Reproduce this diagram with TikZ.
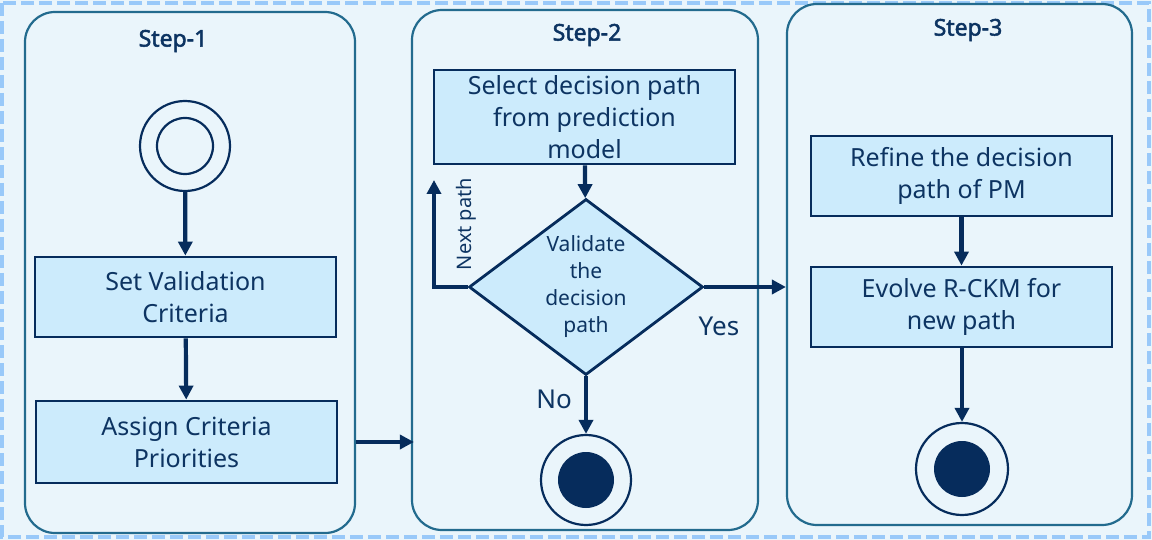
\documentclass[tikz,border=0pt]{standalone}
\usepackage{fontspec}
\setmainfont{Noto Sans}
\newfontfamily\titlefont{Noto Sans}[FakeBold=2.2]
\usetikzlibrary{shapes.geometric,arrows.meta,positioning}

\definecolor{bgblue}{HTML}{EAF5FB}
\definecolor{dashblue}{HTML}{99C9F9}
\definecolor{panelline}{HTML}{236B8E}
\definecolor{navy}{HTML}{062C5C}
\definecolor{boxfill}{HTML}{CCEBFC}
\definecolor{txt}{HTML}{0D3462}

\tikzset{
  panel/.style={draw=panelline, line width=2.2pt, fill=bgblue, rounded corners=30pt, inner sep=0pt},
  steptitle/.style={font=\titlefont\fontsize{23}{26}\selectfont, text=txt},
  actbox/.style={draw=navy, line width=2.8pt, fill=boxfill, minimum width=301pt, inner sep=0pt,
    align=center, text=txt, font=\fontsize{25}{32}\selectfont},
  decision/.style={draw=navy, line width=2.8pt, fill=boxfill, shape=diamond, aspect=1.33,
    minimum width=234pt, minimum height=176pt, inner sep=0pt, align=center, text=txt,
    font=\fontsize{21}{27}\selectfont},
  ring/.style={draw=navy, line width=2.2pt, circle, inner sep=0pt},
  flow/.style={draw=navy, line width=4.2pt, -{Triangle[length=14pt,width=14pt]}},
  lbl/.style={text=txt, inner sep=0pt},
}

\begin{document}
\begin{tikzpicture}[x=1pt,y=-1pt]
  % canvas and dashed frame
  \fill[bgblue] (0,0) rectangle (1152,540);
  \useasboundingbox (0,0) rectangle (1152,540);
  \draw[dashblue, line width=4pt, dash pattern=on 13pt off 5pt] (2,3) rectangle (1149,537);

  % swim-lane panels
  \node[panel, minimum width=330pt, minimum height=521pt] (p1) at (190,272.5) {};
  \node[panel, minimum width=346pt, minimum height=520pt] (p2) at (585,270) {};
  \node[panel, minimum width=345pt, minimum height=521pt] (p3) at (959.5,264.5) {};

  \node[steptitle] (t1) at (173,41) {Step-1};
  \node[steptitle] (t2) at (587,35) {Step-2};
  \node[steptitle] (t3) at (968,30) {Step-3};

  % Step-1
  \node[ring, minimum size=90pt] (start) at (185,146) {};
  \node[ring, minimum size=56pt] (startcore) at (185,146) {};
  \node[actbox, minimum height=80pt] (setcrit) at (185.5,297) {Set Validation\\Criteria};
  \node[actbox, minimum height=82pt] (assign) at (186.5,442) {Assign Criteria\\Priorities};

  % Step-2
  \node[actbox, minimum height=94pt] (select) at (584.5,117) {Select decision path\\from prediction\\model};
  \node[decision] (validate) at (586,287) {Validate\\the\\decision\\path};
  \node[ring, minimum size=90pt] (end2) at (586,480) {};
  \node[circle, fill=navy, inner sep=0pt, minimum size=56pt] (end2core) at (586,480) {};
  \coordinate (nextup) at (434,180);

  % Step-3
  \node[actbox, minimum height=80pt] (refine) at (961.5,176) {Refine the decision\\path of PM};
  \node[actbox, minimum height=80pt] (evolve) at (961.5,307) {Evolve R-CKM for\\new path};
  \node[ring, minimum size=92pt] (end3) at (962,469) {};
  \node[circle, fill=navy, inner sep=0pt, minimum size=56pt] (end3core) at (962,469) {};

  % flows
  \draw[flow] (start) -- (setcrit);
  \draw[flow] (setcrit) -- (assign);
  \draw[flow] (p1.east |- assign) -- ([xshift=3pt]p2.west |- assign);
  \draw[flow] (select) -- (validate);
  \draw[flow] (validate.west) -| (nextup);
  \draw[flow] (validate.east) -- (p3.west |- validate.east);
  \draw[flow] (validate.south) -- (end2);
  \draw[flow] (refine) -- (evolve);
  \draw[flow] (evolve.south -| end3) -- (end3);

  % branch labels
  \node[lbl, rotate=90, font=\fontsize{20}{24}\selectfont] (nextlbl) at (466,224) {Next path};
  \node[lbl, font=\fontsize{26}{30}\selectfont] (yeslbl) at (719,326) {Yes};
  \node[lbl, font=\fontsize{26}{30}\selectfont] (nolbl) at (554,399) {No};
\end{tikzpicture}
\end{document}
